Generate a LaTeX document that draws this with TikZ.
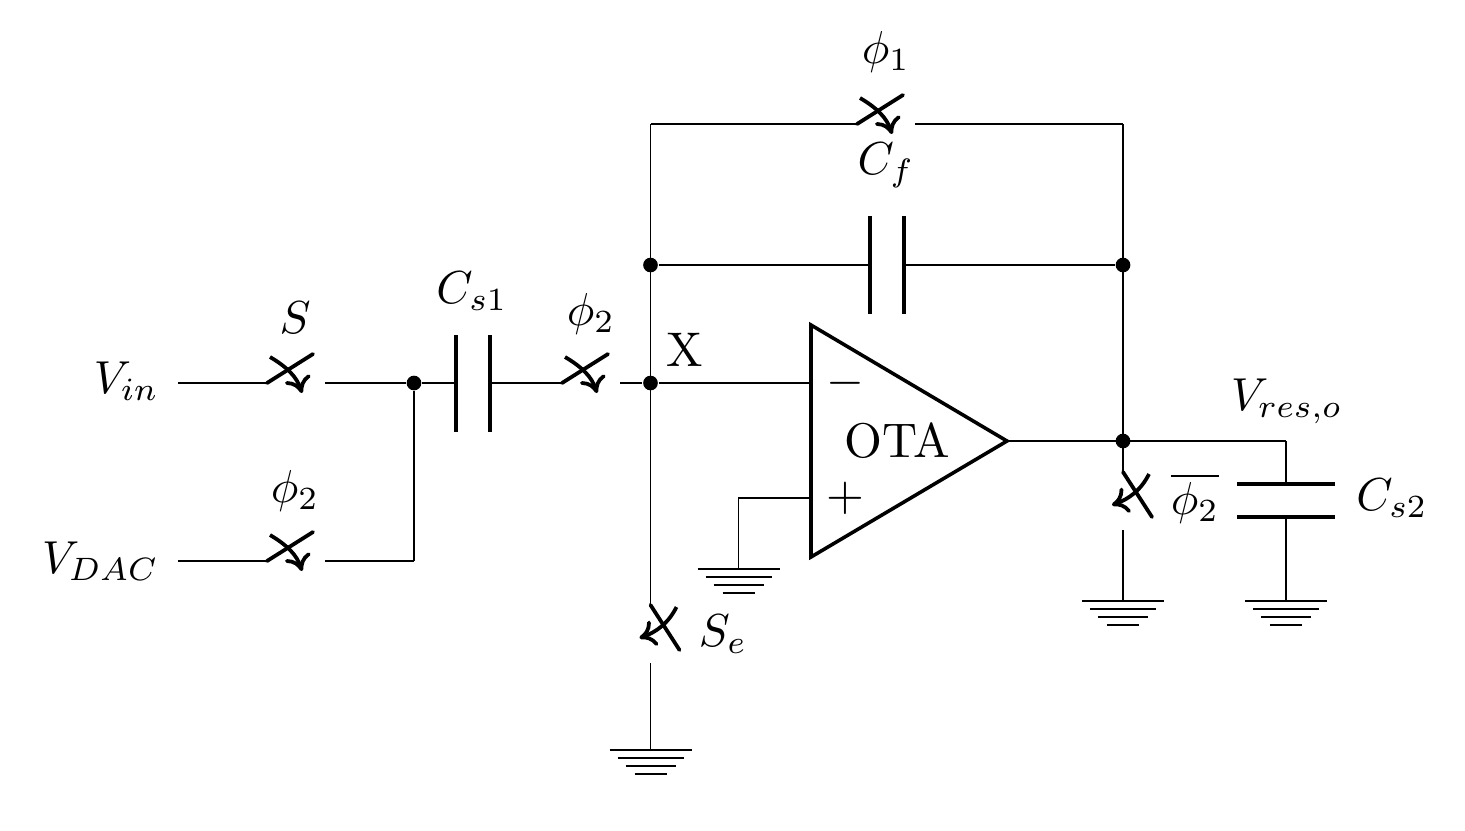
\documentclass[tikz,border=0pt]{standalone}
\usetikzlibrary{arrows.meta}
\tikzset{
  wire/.style={line width=0.4pt},
  blade/.style={line width=0.85pt,line cap=round},
  plate/.style={line width=0.8pt},
  dotnode/.style={circle,fill=black,inner sep=0pt,minimum size=3.3pt},
  lab/.style={inner sep=0pt,scale=1.095},
  mlab/.style={inner sep=0pt,scale=1.04},
  swarrow/.style={line width=0.85pt,-{To[length=3.6pt,width=6pt]}},
}
% horizontal switch: #1 name, #2 x of left contact, #3 y
\newcommand{\swH}[3]{%
  \coordinate (#1-a) at (#2,#3);
  \coordinate (#1-b) at (#2+58,#3);
  \begin{scope}[shift={(#2,#3)}]
    \draw[blade] (0,0) -- (46,-29);
    \draw[swarrow] (3,-26) .. controls (20,-16) and (30,-6) .. (35,10);
  \end{scope}}
% vertical switch: #1 name, #2 x, #3 y of top contact
\newcommand{\swV}[3]{%
  \coordinate (#1-a) at (#2,#3);
  \coordinate (#1-b) at (#2,#3+58);
  \begin{scope}[shift={(#2,#3)}]
    \draw[blade] (0,0) -- (29,45);
    \draw[swarrow] (26,2) .. controls (18,18) and (6,27) .. (-11,33);
  \end{scope}}
% ground: #1 name, #2 x, #3 y
\newcommand{\gnd}[3]{%
  \coordinate (#1) at (#2,#3);
  \begin{scope}[shift={(#2,#3)}]
    \draw[line width=0.6pt] (-41,0) -- (41,0);
    \draw[line width=0.55pt] (-33,8) -- (33,8);
    \draw[line width=0.5pt] (-25,16) -- (25,16);
    \draw[line width=0.35pt] (-16,24) -- (16,24);
  \end{scope}}
\begin{document}
\begin{tikzpicture}[x=0.225pt,y=-0.225pt]
\useasboundingbox (0,0) rectangle (1465,830);
% terminals and junctions
\coordinate (vin) at (178,383);
\coordinate (vdac) at (178,561);
\coordinate (corner) at (414,561);
\node[dotnode] (n1) at (414,383) {};
\node[dotnode] (x) at (650.5,383) {};
\node[dotnode] (fl) at (650.5,265) {};
\node[dotnode] (fr) at (1123,265) {};
\node[dotnode] (out) at (1123,441) {};
\coordinate (tl) at (650.5,124);
\coordinate (tr) at (1123,124);
\coordinate (co) at (1286,441);
% OTA
\draw[line width=0.8pt,line join=miter] (811,325) coordinate (ota1) -- (811,557) -- (1007,441) coordinate (otaout) -- cycle;
\coordinate (otam) at (811,383);
\coordinate (otap) at (811,498);
\coordinate (gc) at (738.5,498);
% switches
\swH{s1}{267}{383}
\swH{s2}{267}{561}
\swH{s3}{562}{383}
\swH{s4}{857}{124}
\swV{s5}{650.5}{605}
\swV{s6}{1123}{472}
% grounds
\gnd{g1}{738.5}{569}
\gnd{g2}{650.5}{750}
\gnd{g3}{1123}{601}
\gnd{g4}{1286}{601}
% capacitors
\coordinate (c1a) at (456,383); \coordinate (c1b) at (490,383);
\coordinate (c2a) at (870,265); \coordinate (c2b) at (904,265);
\coordinate (c3a) at (1286,484); \coordinate (c3b) at (1286,517);
\draw[plate] (456,335) -- (456,432) (490,335) -- (490,432);
\draw[plate] (870,216) -- (870,314) (904,216) -- (904,314);
\draw[plate] (1237,484) -- (1335,484) (1237,517) -- (1335,517);
% wires
\draw[wire] (vin) -- (s1-a);
\draw[wire] (s1-b) -- (n1);
\draw[wire] (n1) -- (c1a);
\draw[wire] (c1b) -- (s3-a);
\draw[wire] (s3-b) -- (x);
\draw[wire] (x) -- (otam);
\draw[line width=0.5pt] (vdac) -- (s2-a);
\draw[line width=0.5pt] (s2-b) -- (corner);
\draw[wire] (corner) -- (n1);
\draw[wire] (s5-a) -- (tl);
\draw[wire] (tl) -- (s4-a);
\draw[wire] (s4-b) -- (tr);
\draw[wire] (tr) -- (s6-a);
\draw[wire] (fl) -- (c2a);
\draw[wire] (c2b) -- (fr);
\draw[wire] (otaout) -- (co);
\draw[wire] (co) -- (c3a);
\draw[wire] (c3b) -- (g4);
\draw[wire] (s6-b) -- (g3);
\draw[wire] (s5-b) -- (g2);
\draw[wire] (otap) -- (gc) -- (g1);
% labels
\node[mlab,anchor=east] (l1) at (160,381) {$V_{in}$};
\node[mlab,anchor=east] (l2) at (160,561) {$V_{DAC}$};
\node[mlab] (l3) at (295,318) {$S$};
\node[mlab] (l4) at (295,491) {$\phi_2$};
\node[mlab] (l5) at (472,291) {$C_{s1}$};
\node[mlab] (l6) at (591,314) {$\phi_2$};
\node[lab] (l7) at (685,350) {X};
\node[mlab] (l8) at (886,52) {$\phi_1$};
\node[mlab] (l9) at (886,165) {$C_f$};
\node[lab] (l10) at (845,383) {$-$};
\node[lab] (l11) at (845,498) {$+$};
\node[lab] (l12) at (897,441) {OTA};
\node[mlab] (l13) at (1287,401) {$V_{res,o}$};
\node[mlab] (l14) at (1195,498) {$\overline{\phi_2}$};
\node[mlab] (l15) at (1392,498) {$C_{s2}$};
\node[mlab] (l16) at (723,634) {$S_e$};
\end{tikzpicture}
\end{document}
